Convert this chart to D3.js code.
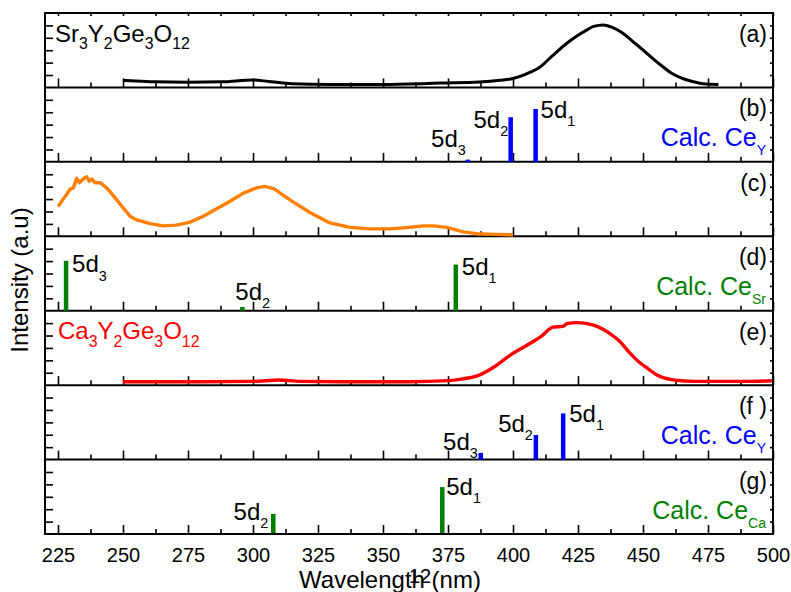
<!DOCTYPE html>
<html>
<head>
<meta charset="utf-8">
<script src="https://cdn.jsdelivr.net/npm/d3@7"></script>
<style>
  body { margin: 0; background: #fff; }
  text { font-family: "Liberation Sans", Arial, sans-serif; }
</style>
</head>
<body>
<svg width="791" height="592"></svg>
<script>
/* global d3 */

// ---- data ----
const panelTags = ["(a)", "(b)", "(c)", "(d)", "(e)", "(f )", "(g)"];
const majorTicks = [225, 250, 275, 300, 325, 350, 375, 400, 425, 450, 475, 500];
const minorTicks = [237.5, 262.5, 287.5, 312.5, 337.5, 362.5, 387.5, 412.5, 437.5, 462.5, 487.5];

// (a) Sr3Y2Ge3O12 emission  [nm, relative intensity]
const srEmission = [
  [250, 0.095], [255, 0.085], [262, 0.075], [275, 0.07], [288, 0.075], [300, 0.1],
  [306, 0.08], [315, 0.05], [330, 0.04], [350, 0.04], [365, 0.05], [372, 0.058],
  [387, 0.072], [395, 0.095], [400, 0.12], [405, 0.18], [410.4, 0.274], [415, 0.42],
  [420.6, 0.59], [425, 0.7], [428.3, 0.77], [431, 0.82], [434.7, 0.84], [438, 0.81],
  [442.4, 0.725], [446, 0.62], [450.1, 0.5], [454, 0.38], [457.8, 0.274], [461, 0.19],
  [465.5, 0.117], [469, 0.08], [473.2, 0.05], [479, 0.04]
];

// (c) excitation spectrum
const srExcitation = [
  [225.1, 0.4], [226.4, 0.47], [228.3, 0.56], [229.6, 0.63], [230.9, 0.65], [232.2, 0.78],
  [233.2, 0.72], [234.7, 0.77], [236, 0.8], [237, 0.74], [238, 0.77], [239.2, 0.72],
  [241.2, 0.72], [243.7, 0.65], [245, 0.6], [247.6, 0.49], [250.1, 0.38], [252.7, 0.27],
  [255.3, 0.22], [260.4, 0.17], [265.5, 0.14], [270.6, 0.15], [275.8, 0.19], [280.9, 0.27],
  [286, 0.37], [291.2, 0.47], [296.3, 0.58], [301.4, 0.65], [304.5, 0.67], [308, 0.64],
  [314.2, 0.49], [321.9, 0.32], [329.6, 0.18], [337.3, 0.12], [345, 0.1], [352.7, 0.1],
  [360, 0.12], [365.5, 0.14], [369.4, 0.14], [374.5, 0.12], [380.9, 0.06], [386, 0.035],
  [393, 0.025], [400, 0.02]
];

// (e) Ca3Y2Ge3O12 emission
const caEmission = [
  [250, 0.045], [280, 0.045], [300, 0.05], [310, 0.07], [318, 0.05], [340, 0.045],
  [360, 0.045], [375, 0.06], [380, 0.08], [387, 0.135], [393, 0.25], [398.8, 0.4],
  [406.5, 0.56], [411, 0.66], [415.4, 0.78], [419.2, 0.79], [421, 0.83], [424.6, 0.84],
  [428, 0.83], [432.3, 0.79], [437, 0.7], [441, 0.59], [445, 0.43], [448.8, 0.3],
  [452, 0.22], [455.4, 0.135], [461.5, 0.07], [470, 0.05], [490, 0.05], [500, 0.06]
];

// calculated 5d levels  {level, nm, value}
const calcSrCeY = [
  { level: "5d{3}", nm: 382.6, value: 0.03 },
  { level: "5d{2}", nm: 399.1, value: 0.6 },
  { level: "5d{1}", nm: 408.7, value: 0.71 }
];
const calcSrCeSr = [
  { level: "5d{3}", nm: 228.1, value: 0.67 },
  { level: "5d{2}", nm: 295.9, value: 0.05 },
  { level: "5d{1}", nm: 378, value: 0.62 }
];
const calcCaCeY = [
  { level: "5d{3}", nm: 387.6, value: 0.09 },
  { level: "5d{2}", nm: 408.8, value: 0.33 },
  { level: "5d{1}", nm: 419.3, value: 0.62 }
];
const calcCaCeCa = [
  { level: "5d{2}", nm: 307.8, value: 0.27 },
  { level: "5d{1}", nm: 372.8, value: 0.63 }
];

// ---- layout ----
const svg = d3.select("svg");
const plot = { left: 45, right: 773, top: 13, bottom: 534 };

const panels = [
  { curve: srEmission, color: "#000000", width: 3, formula: "Sr{3}Y{2}Ge{3}O{12}" },
  { bars: calcSrCeY, color: "#0000ff", calc: "Calc. Ce{Y}" },
  { curve: srExcitation, color: "#ff8000", width: 3.4, linear: true },
  { bars: calcSrCeSr, color: "#007f00", calc: "Calc. Ce{Sr}" },
  { curve: caEmission, color: "#ff0000", width: 3.4, formula: "Ca{3}Y{2}Ge{3}O{12}" },
  { bars: calcCaCeY, color: "#0000ff", calc: "Calc. Ce{Y}" },
  { bars: calcCaCeCa, color: "#007f00", calc: "Calc. Ce{Ca}" }
];

// where each level label sits relative to its bar top
const levelLabelPlacement = {
  "1-5d{3}": { dx: -2, dy: -13, anchor: "end" },
  "1-5d{2}": { dx: -2.5, dy: 11, anchor: "end" },
  "1-5d{1}": { dx: 5, dy: 9, anchor: "start" },
  "3-5d{3}": { dx: 6, dy: 11.5, anchor: "start" },
  "3-5d{2}": { dx: -7, dy: -7, anchor: "start" },
  "3-5d{1}": { dx: 6, dy: 10, anchor: "start" },
  "5-5d{3}": { dx: -3, dy: -3, anchor: "end" },
  "5-5d{2}": { dx: -3, dy: -3, anchor: "end" },
  "5-5d{1}": { dx: 6, dy: 8.5, anchor: "start" },
  "6-5d{2}": { dx: -5, dy: 6, anchor: "end" },
  "6-5d{1}": { dx: 4, dy: 8, anchor: "start" }
};

const x = d3.scaleLinear().domain([220, 500]).range([plot.left, plot.right]);
const band = d3.scaleBand().domain(d3.range(panels.length)).range([plot.top, plot.bottom]);

// "Ce{Y}" -> text with subscript tspans
const richText = (sel, px, py, markup, opt) => {
  const size = opt.size;
  const t = sel.append("text")
    .attr("x", px)
    .attr("y", py)
    .attr("font-size", size)
    .attr("fill", opt.fill || "#000")
    .attr("text-anchor", opt.anchor || "start");
  let shift = 0;
  markup.split(/(\{[^}]*\})/).filter((s) => s !== "").forEach((s) => {
    const sub = s.startsWith("{");
    const target = sub ? size * (opt.drop || 0.34) : 0;
    t.append("tspan")
      .attr("dy", target - shift)
      .attr("font-size", sub ? size * (opt.subScale || 0.62) : size)
      .text(sub ? s.slice(1, -1) : s);
    shift = target;
  });
  return t;
};

panels.forEach((panel, i) => {
  const top = band(i);
  const bottom = top + band.bandwidth();
  const y = d3.scaleLinear().domain([0, 1]).range([bottom, top]);
  const g = svg.append("g").attr("class", "panel-" + i);

  // axes: ticks pointing inward
  const isLast = i === panels.length - 1;
  g.append("g")
    .attr("transform", `translate(0, ${bottom})`)
    .call(d3.axisBottom(x).tickValues(minorTicks).tickSize(-5).tickFormat(""));
  g.append("g")
    .attr("class", isLast ? "x-labels" : "")
    .attr("transform", `translate(0, ${bottom})`)
    .call(d3.axisBottom(x).tickValues(majorTicks).tickSize(-9).tickPadding(14)
      .tickFormat(isLast ? d3.format("d") : ""));
  g.append("g")
    .attr("transform", `translate(${plot.left}, 0)`)
    .call(d3.axisLeft(y).tickValues([1 / 6, 2 / 6, 3 / 6, 4 / 6, 5 / 6]).tickSize(-8).tickFormat(""));
  g.append("g")
    .attr("transform", `translate(${plot.right}, 0)`)
    .call(d3.axisRight(y).tickValues([1 / 6, 2 / 6, 3 / 6, 4 / 6, 5 / 6]).tickSize(-3).tickFormat(""));
  if (i === 0) {
    g.append("g")
      .attr("transform", `translate(0, ${top})`)
      .call(d3.axisTop(x).tickValues(majorTicks.concat(minorTicks)).tickSize(-3).tickFormat(""));
  }

  // separator line
  g.append("line")
    .attr("x1", plot.left).attr("x2", plot.right)
    .attr("y1", bottom).attr("y2", bottom)
    .attr("stroke", "#000").attr("stroke-width", 2);

  if (panel.curve) {
    const line = d3.line()
      .x((d) => x(d[0]))
      .y((d) => y(d[1]))
      .curve(panel.linear ? d3.curveLinear : d3.curveMonotoneX);
    g.append("path")
      .datum(panel.curve)
      .attr("d", line)
      .attr("fill", "none")
      .attr("stroke", panel.color)
      .attr("stroke-width", panel.width)
      .attr("stroke-linejoin", "round");
  }

  if (panel.bars) {
    g.selectAll(".bar")
      .data(panel.bars)
      .enter().append("rect")
      .attr("class", "bar")
      .attr("x", (d) => x(d.nm) - 2.25)
      .attr("width", 4.5)
      .attr("y", (d) => y(d.value))
      .attr("height", (d) => bottom - y(d.value))
      .attr("fill", panel.color);

    panel.bars.forEach((d) => {
      const p = levelLabelPlacement[i + "-" + d.level];
      richText(g, x(d.nm) + p.dx, y(d.value) + p.dy, d.level,
        { size: 24, anchor: p.anchor, drop: 0.34, subScale: 0.6 });
    });

    richText(g, 766, top + 59, panel.calc,
      { size: 25, anchor: "end", fill: panel.color, drop: 0.36, subScale: 0.56 });
  }

  if (panel.formula) {
    richText(g, i === 0 ? 55 : 58, top + 28.5, panel.formula,
      { size: 24, fill: panel.color, drop: 0.32, subScale: 0.66 });
  }

  g.append("text")
    .attr("x", 767)
    .attr("y", top + 29)
    .attr("text-anchor", "end")
    .attr("font-size", 23)
    .text(panelTags[i]);
});

// frame
svg.append("rect")
  .attr("x", plot.left).attr("y", plot.top)
  .attr("width", plot.right - plot.left)
  .attr("height", plot.bottom - plot.top)
  .attr("fill", "none")
  .attr("stroke", "#000")
  .attr("stroke-width", 2);

svg.selectAll(".domain").remove();
svg.selectAll(".tick line").attr("stroke", "#000").attr("stroke-width", 1.6);
svg.selectAll(".x-labels .tick text")
  .attr("font-size", 20)
  .attr("font-family", "'Liberation Sans', Arial, sans-serif")
  .attr("fill", "#000");

// axis titles
svg.append("text")
  .attr("x", 390)
  .attr("y", 588)
  .attr("text-anchor", "middle")
  .attr("font-size", 24)
  .text("Wavelength (nm)");
svg.append("text")
  .attr("x", 420)
  .attr("y", 583)
  .attr("text-anchor", "middle")
  .attr("font-size", 20)
  .text("12");
svg.append("text")
  .attr("transform", "translate(28, 280) rotate(-90)")
  .attr("text-anchor", "middle")
  .attr("font-size", 24)
  .text("Intensity (a.u)");
</script>
</body>
</html>
